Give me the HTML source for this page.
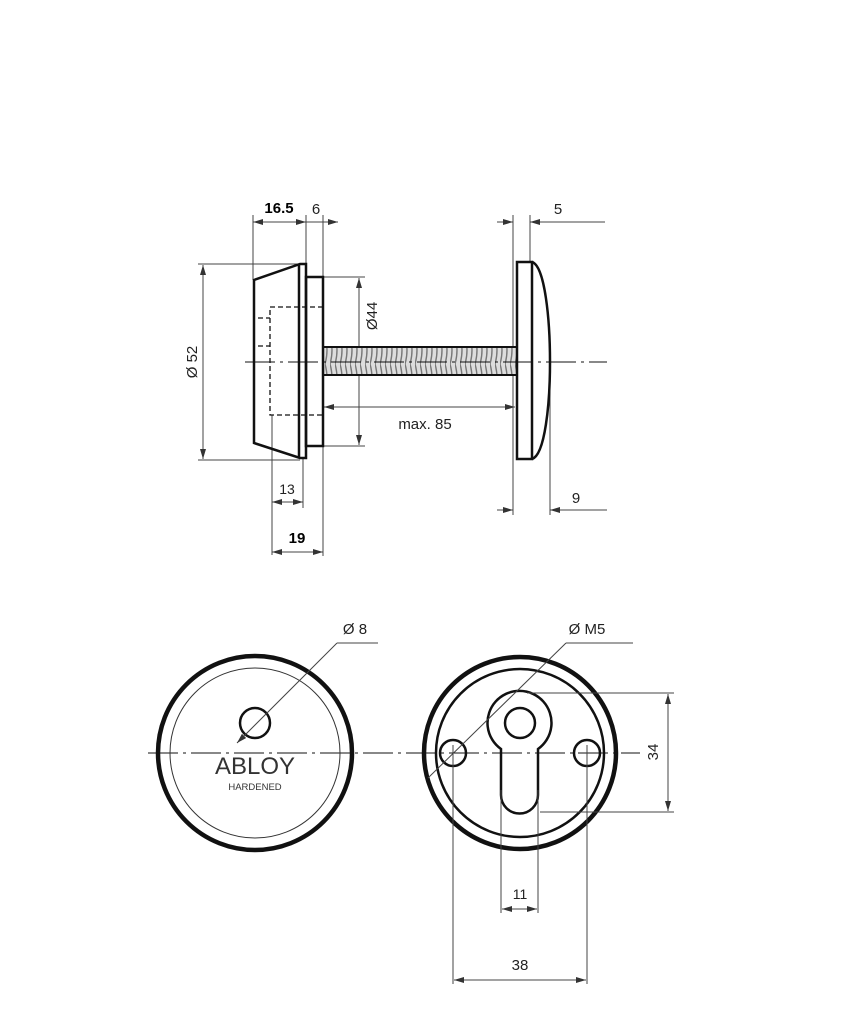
<!DOCTYPE html>
<html><head><style>
html,body{margin:0;padding:0;background:#fff;}
svg{display:block;}
text{font-family:"Liberation Sans",sans-serif;}
</style></head><body>
<svg width="854" height="1014" viewBox="0 0 854 1014" xmlns="http://www.w3.org/2000/svg">
<defs>
<marker id="a" viewBox="0 0 10 6" refX="10" refY="3" markerWidth="10" markerHeight="6" orient="auto-start-reverse" markerUnits="userSpaceOnUse"><path d="M0,0 L10,3 L0,6 z" fill="#333"/></marker>
<pattern id="thr" width="5" height="28" patternUnits="userSpaceOnUse"><rect width="5" height="28" fill="#ddd"/><path d="M0,28 Q4,14 0,0" stroke="#777" stroke-width="1.4" fill="none"/></pattern>
</defs>
<g fill="none" stroke="#444" stroke-width="1">
<line x1="253" y1="215" x2="253" y2="280"/>
<line x1="306" y1="215" x2="306" y2="264"/>
<line x1="323" y1="215" x2="323" y2="277"/>
<line x1="253" y1="222" x2="306" y2="222" marker-start="url(#a)" marker-end="url(#a)"/>
<line x1="306" y1="222" x2="338" y2="222" marker-end="url(#a)"/>
<line x1="198" y1="264" x2="300" y2="264"/>
<line x1="198" y1="460" x2="300" y2="460"/>
<line x1="203" y1="265" x2="203" y2="459" marker-start="url(#a)" marker-end="url(#a)"/>
<line x1="323" y1="277" x2="365" y2="277"/>
<line x1="323" y1="446" x2="365" y2="446"/>
<line x1="359" y1="278" x2="359" y2="445" marker-start="url(#a)" marker-end="url(#a)"/>
<line x1="324" y1="407" x2="515" y2="407" marker-start="url(#a)" marker-end="url(#a)"/>
<line x1="513" y1="215" x2="513" y2="515"/>
<line x1="530" y1="215" x2="530" y2="262"/>
<line x1="550" y1="362" x2="550" y2="515"/>
<line x1="497" y1="222" x2="513" y2="222" marker-end="url(#a)"/>
<line x1="546" y1="222" x2="530" y2="222" marker-end="url(#a)"/>
<line x1="546" y1="222" x2="605" y2="222"/>
<line x1="497" y1="510" x2="513" y2="510" marker-end="url(#a)"/>
<line x1="566" y1="510" x2="550" y2="510" marker-end="url(#a)"/>
<line x1="566" y1="510" x2="607" y2="510"/>
<line x1="272" y1="415" x2="272" y2="555"/>
<line x1="303" y1="458" x2="303" y2="508"/>
<line x1="323" y1="446" x2="323" y2="556"/>
<line x1="272" y1="502" x2="303" y2="502" marker-start="url(#a)" marker-end="url(#a)"/>
<line x1="272" y1="552" x2="323" y2="552" marker-start="url(#a)" marker-end="url(#a)"/>
</g>
<rect x="323" y="347" width="194" height="28" fill="url(#thr)" stroke="#111" stroke-width="2"/>
<line x1="245" y1="362" x2="607" y2="362" stroke="#111" stroke-width="1" stroke-dasharray="30,5,3,5"/>
<g fill="none" stroke="#111" stroke-width="2.5">
<path d="M254,280 L300,264 L306,264 L306,458 L300,458 L254,443 Z"/>
<line x1="299" y1="264" x2="299" y2="458"/>
<rect x="306" y="277" width="17" height="169"/>
<rect x="517" y="262" width="15" height="197"/>
<path d="M532,262 C545,266 550,320 550,362 C550,404 545,455 532,459"/>
</g>
<g fill="none" stroke="#111" stroke-width="1.3" stroke-dasharray="5,3">
<path d="M323,307 L270,307 L270,415 L323,415"/>
<line x1="258" y1="318" x2="270" y2="318"/>
<line x1="258" y1="346" x2="270" y2="346"/>
</g>
<g font-size="15" fill="#222">
<text x="279" y="213" text-anchor="middle" font-weight="bold" fill="#000">16.5</text>
<text x="316" y="214" text-anchor="middle">6</text>
<text x="558" y="214" text-anchor="middle">5</text>
<text x="425" y="429" text-anchor="middle">max. 85</text>
<text x="576" y="503" text-anchor="middle">9</text>
<text x="287" y="494" text-anchor="middle" font-size="14">13</text>
<text x="297" y="543" text-anchor="middle" font-weight="bold" fill="#000">19</text>
<text transform="translate(197,362) rotate(-90)" text-anchor="middle">Ø 52</text>
<text transform="translate(377,316) rotate(-90)" text-anchor="middle">Ø44</text>
</g>
<line x1="148" y1="753" x2="640" y2="753" stroke="#111" stroke-width="1" stroke-dasharray="30,5,3,5"/>
<g fill="none">
<circle cx="255" cy="753" r="97" stroke="#111" stroke-width="4.5"/>
<circle cx="255" cy="753" r="85" stroke="#333" stroke-width="1"/>
<circle cx="255" cy="723" r="15" stroke="#111" stroke-width="2.5"/>
<circle cx="520" cy="753" r="96" stroke="#111" stroke-width="4.5"/>
<circle cx="520" cy="753" r="84" stroke="#111" stroke-width="2.5"/>
<path d="M501,749 A32,32 0 1 1 538,749 L538,795 A18.5,18.5 0 0 1 501,795 Z" stroke="#111" stroke-width="2.5"/>
<circle cx="520" cy="723" r="15" stroke="#111" stroke-width="2.5"/>
<circle cx="453" cy="753" r="13" stroke="#111" stroke-width="2.5"/>
<circle cx="587" cy="753" r="13" stroke="#111" stroke-width="2.5"/>
</g>
<g fill="none" stroke="#444" stroke-width="1">
<line x1="378" y1="643" x2="337" y2="643"/>
<line x1="337" y1="643" x2="237" y2="743" marker-end="url(#a)"/>
<line x1="633" y1="643" x2="566" y2="643"/>
<line x1="566" y1="643" x2="428" y2="778"/>
<line x1="527" y1="693" x2="674" y2="693"/>
<line x1="540" y1="812" x2="674" y2="812"/>
<line x1="668" y1="694" x2="668" y2="811" marker-start="url(#a)" marker-end="url(#a)"/>
<line x1="501" y1="790" x2="501" y2="913"/>
<line x1="538" y1="790" x2="538" y2="913"/>
<line x1="502" y1="909" x2="537" y2="909" marker-start="url(#a)" marker-end="url(#a)"/>
<line x1="453" y1="745" x2="453" y2="984"/>
<line x1="587" y1="745" x2="587" y2="984"/>
<line x1="454" y1="980" x2="586" y2="980" marker-start="url(#a)" marker-end="url(#a)"/>
</g>
<g fill="#222" font-size="15">
<text x="355" y="634" text-anchor="middle">Ø 8</text>
<text x="587" y="634" text-anchor="middle">Ø M5</text>
<text x="520" y="899" text-anchor="middle" font-size="14">11</text>
<text x="520" y="970" text-anchor="middle">38</text>
<text transform="translate(658,752) rotate(-90)" text-anchor="middle">34</text>
<text x="255" y="774" text-anchor="middle" font-size="24" fill="#333">ABLOY</text>
<text x="255" y="790" text-anchor="middle" font-size="9.5" fill="#333">HARDENED</text>
</g>
</svg>
</body></html>
